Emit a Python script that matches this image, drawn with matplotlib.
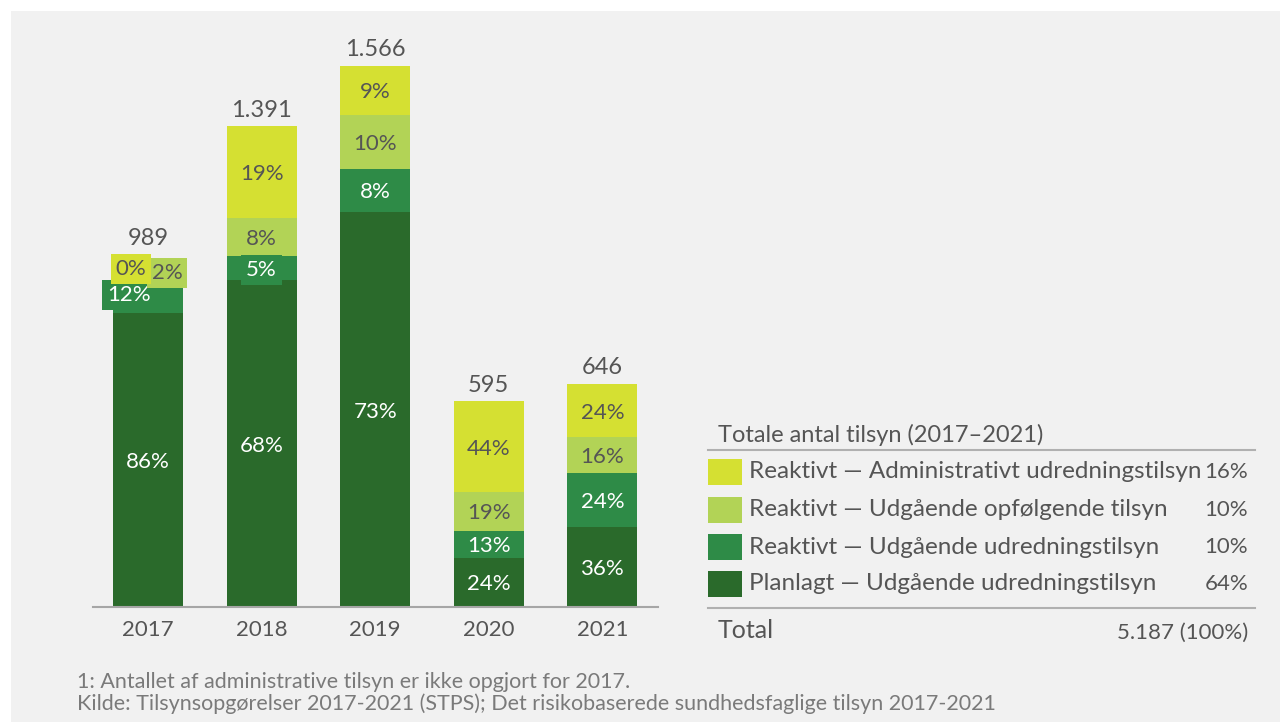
import matplotlib.pyplot as plt
from matplotlib.patches import Rectangle
import numpy as np

# Data
years = ['2017', '2018', '2019', '2020', '2021']
totals = [989, 1391, 1566, 595, 646]
# shares in percent per year, bottom segment first
planlagt = [86, 68, 73, 24, 36]
reakt_udred = [12, 5, 8, 13, 24]
reakt_opf = [2, 8, 10, 19, 16]
reakt_admin = [0, 19, 9, 44, 24]

legend_labels = ['Reaktivt \u2014 Administrativt udredningstilsyn',
                 'Reaktivt \u2014 Udgående opfølgende tilsyn',
                 'Reaktivt \u2014 Udgående udredningstilsyn',
                 'Planlagt \u2014 Udgående udredningstilsyn']
legend_shares = [16, 10, 10, 64]
grand_total = 5187

colors = ['#2a6a2b', '#2e8b47', '#b2d356', '#d5e032']
text_cols = ['white', 'white', '#555555', '#555555']
gray = '#555555'

plt.rcParams['font.family'] = ['Lato', 'DejaVu Sans']

W, H = 1280, 722
fig = plt.figure(figsize=(W / 100, H / 100), dpi=100, facecolor='white')
fig.patches.append(Rectangle((11 / W, 0), 1 - 11 / W, 1 - 11 / H, transform=fig.transFigure,
                             facecolor='#f1f1f1', edgecolor='none', zorder=-10))

px_per_unit = 541 / 1566
ax = fig.add_axes([93 / W, (H - 607) / H, (658 - 93) / W, 567 / H])
ax.set_facecolor('none')

x = np.arange(len(years))
width = 0.617
series = [planlagt, reakt_udred, reakt_opf, reakt_admin]
bottom = np.zeros(len(years))
for k, shares in enumerate(series):
    vals = np.array(totals) * np.array(shares) / 100.0
    ax.bar(x, vals, width, bottom=bottom, color=colors[k], edgecolor='none', zorder=2)
    for i in range(len(years)):
        cy = bottom[i] + vals[i] / 2
        dx, dy = 0, -2
        box = None
        if years[i] == '2017':
            # crowded small segments: labels pushed sideways
            dx = {0: 0, 1: -19, 2: 19, 3: -17}[k]
            if k >= 2:
                dy = -4
            if k >= 1:
                box = dict(boxstyle='square,pad=0.22', facecolor=colors[k], edgecolor='none')
        elif vals[i] * px_per_unit < 26:
            box = dict(boxstyle='square,pad=0.22', facecolor=colors[k], edgecolor='none')
        ax.annotate(f'{shares[i]}%', (x[i], cy), xytext=(dx, dy), textcoords='offset pixels',
                    ha='center', va='center', fontsize=16, color=text_cols[k], zorder=4 + k, bbox=box)
    bottom = bottom + vals

for i in range(len(years)):
    lab = f'{totals[i]:,}'.replace(',', '.')
    off = 27 if years[i] == '2017' else 16
    ax.annotate(lab, (x[i], totals[i]), xytext=(0, off), textcoords='offset pixels',
                ha='center', va='center', fontsize=17, color=gray)

ax.set_xlim(-0.485, 4.49)
ax.set_ylim(0, 567 / px_per_unit)
ax.set_xticks(x)
ax.set_xticklabels(years, fontsize=16, color=gray)
ax.tick_params(axis='x', length=0, pad=9)
ax.set_yticks([])
for s in ['top', 'left', 'right']:
    ax.spines[s].set_visible(False)
ax.spines['bottom'].set_color('#a6a6a6')
ax.spines['bottom'].set_linewidth(1.5)

# Legend table on the right
def fx(px):
    return px / W

def fy(py):
    return 1 - py / H

fig.text(fx(718), fy(435), 'Totale antal tilsyn (2017\u20132021)', fontsize=17, color=gray, va='center')
fig.add_artist(plt.Line2D([fx(708), fx(1255)], [fy(450), fy(450)], color='#b0b0b0', lw=1.5))
row_y = [472, 510, 547, 584]
for j in range(4):
    col = colors[3 - j]
    fig.patches.append(Rectangle((fx(708), fy(row_y[j] + 13)), 34 / W, 26 / H, transform=fig.transFigure,
                                 facecolor=col, edgecolor='none'))
    fig.text(fx(749), fy(row_y[j]), legend_labels[j], fontsize=17.5, color=gray, va='center')
    fig.text(fx(1248), fy(row_y[j]), f'{legend_shares[j]}%', fontsize=16, color=gray, va='center', ha='right')
fig.add_artist(plt.Line2D([fx(708), fx(1255)], [fy(608), fy(608)], color='#b0b0b0', lw=1.5))
fig.text(fx(718), fy(630), 'Total', fontsize=18, color=gray, va='center')
fig.text(fx(1248), fy(633), f'{grand_total:,}'.replace(',', '.') + ' (100%)', fontsize=16, color=gray,
         va='center', ha='right')

# Footnotes
fig.text(fx(77), fy(682), '1: Antallet af administrative tilsyn er ikke opgjort for 2017.',
         fontsize=15.5, color='#7a7a7a', va='center')
fig.text(fx(77), fy(704), 'Kilde: Tilsynsopgørelser 2017-2021 (STPS); Det risikobaserede sundhedsfaglige tilsyn 2017-2021',
         fontsize=15.5, color='#7a7a7a', va='center')

fig.savefig('out.png', dpi=100, facecolor=fig.get_facecolor())
